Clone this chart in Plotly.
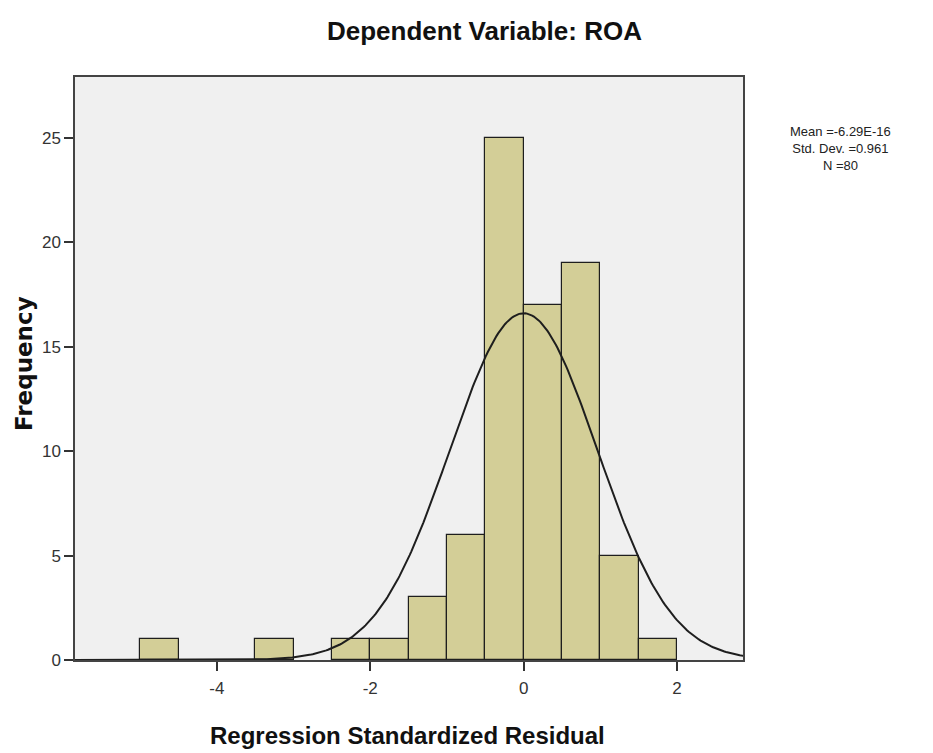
import numpy as np
import plotly.graph_objects as go

# Histogram data (bin width 0.5)
bin_centers = [-4.75, -3.25, -2.25, -1.75, -1.25, -0.75, -0.25, 0.25, 0.75, 1.25, 1.75]
counts = [1, 1, 1, 1, 3, 6, 25, 17, 19, 5, 1]
bin_width = 0.5
mean_val = -6.29e-16
std_val = 0.961
n_val = 80
x_ticks = [-4, -2, 0, 2]
y_ticks = [0, 5, 10, 15, 20, 25]

L, T, R, B = 75, 77, 190, 93
W, H = 933, 753

xs = np.linspace(-5.9, 2.95, 400)
ys = n_val * bin_width * np.exp(-0.5 * ((xs - mean_val) / std_val) ** 2) / (std_val * np.sqrt(2 * np.pi))

fig = go.Figure()
fig.add_trace(go.Bar(x=bin_centers, y=counts, width=bin_width,
                     marker=dict(color="#d3ce97", line=dict(color="#1e1e1e", width=1.2)),
                     showlegend=False, hoverinfo="x+y"))
fig.add_trace(go.Scatter(x=xs, y=ys, mode="lines", line=dict(color="#1e1e1e", width=2),
                         showlegend=False, hoverinfo="skip"))

font_main = "Liberation Sans, Arial, sans-serif"
tick_font = dict(size=17, family=font_main, color="#333")
fig.update_layout(
    width=W, height=H,
    margin=dict(l=L, r=R, t=T, b=B),
    paper_bgcolor="white",
    plot_bgcolor="#f0f0f0",
    bargap=0,
    font=dict(family=font_main, color="#333333"),
    xaxis=dict(range=[-5.85, 2.86], tickvals=x_ticks, ticktext=[str(v) for v in x_ticks],
               ticks="outside", ticklen=9, tickwidth=1.5, tickcolor="#333",
               showgrid=False, zeroline=False, showline=True, linecolor="#444", linewidth=1.5,
               mirror=True, tickfont=tick_font, ticklabelstandoff=3),
    yaxis=dict(range=[0, 27.92], tickvals=y_ticks, ticks="outside", ticklen=9, tickwidth=1.5,
               tickcolor="#333", showgrid=False, zeroline=False, showline=True, linecolor="#444",
               linewidth=1.5, mirror=True, tickfont=tick_font),
    annotations=[
        dict(text="<b>Dependent Variable: ROA</b>", x=484, y=31, showarrow=False,
             font=dict(size=26, color="#111", family=font_main)),
        dict(text="<b>Regression Standardized Residual</b>", x=407, y=735, showarrow=False,
             font=dict(size=24, color="#111", family=font_main)),
        dict(text="<b>Frequency</b>", x=24, y=364, textangle=-90, showarrow=False,
             font=dict(size=23, color="#111", family="DejaVu Sans, sans-serif")),
        dict(text="Mean =-6.29E-16<br>Std. Dev. =0.961<br>N =80", x=840, y=148, showarrow=False,
             align="center",
             font=dict(size=13, color="#222", family=font_main)),
    ],
)
# convert pixel annotation positions to paper coordinates
pw, ph = W - L - R, H - T - B
for a in fig.layout.annotations:
    px, py = a.x, a.y
    a.x = (px - L) / pw
    a.y = 1 - (py - T) / ph
    a.xref = "paper"
    a.yref = "paper"
    a.xanchor = "center"
    a.yanchor = "middle"

fig.write_html("out.html")
